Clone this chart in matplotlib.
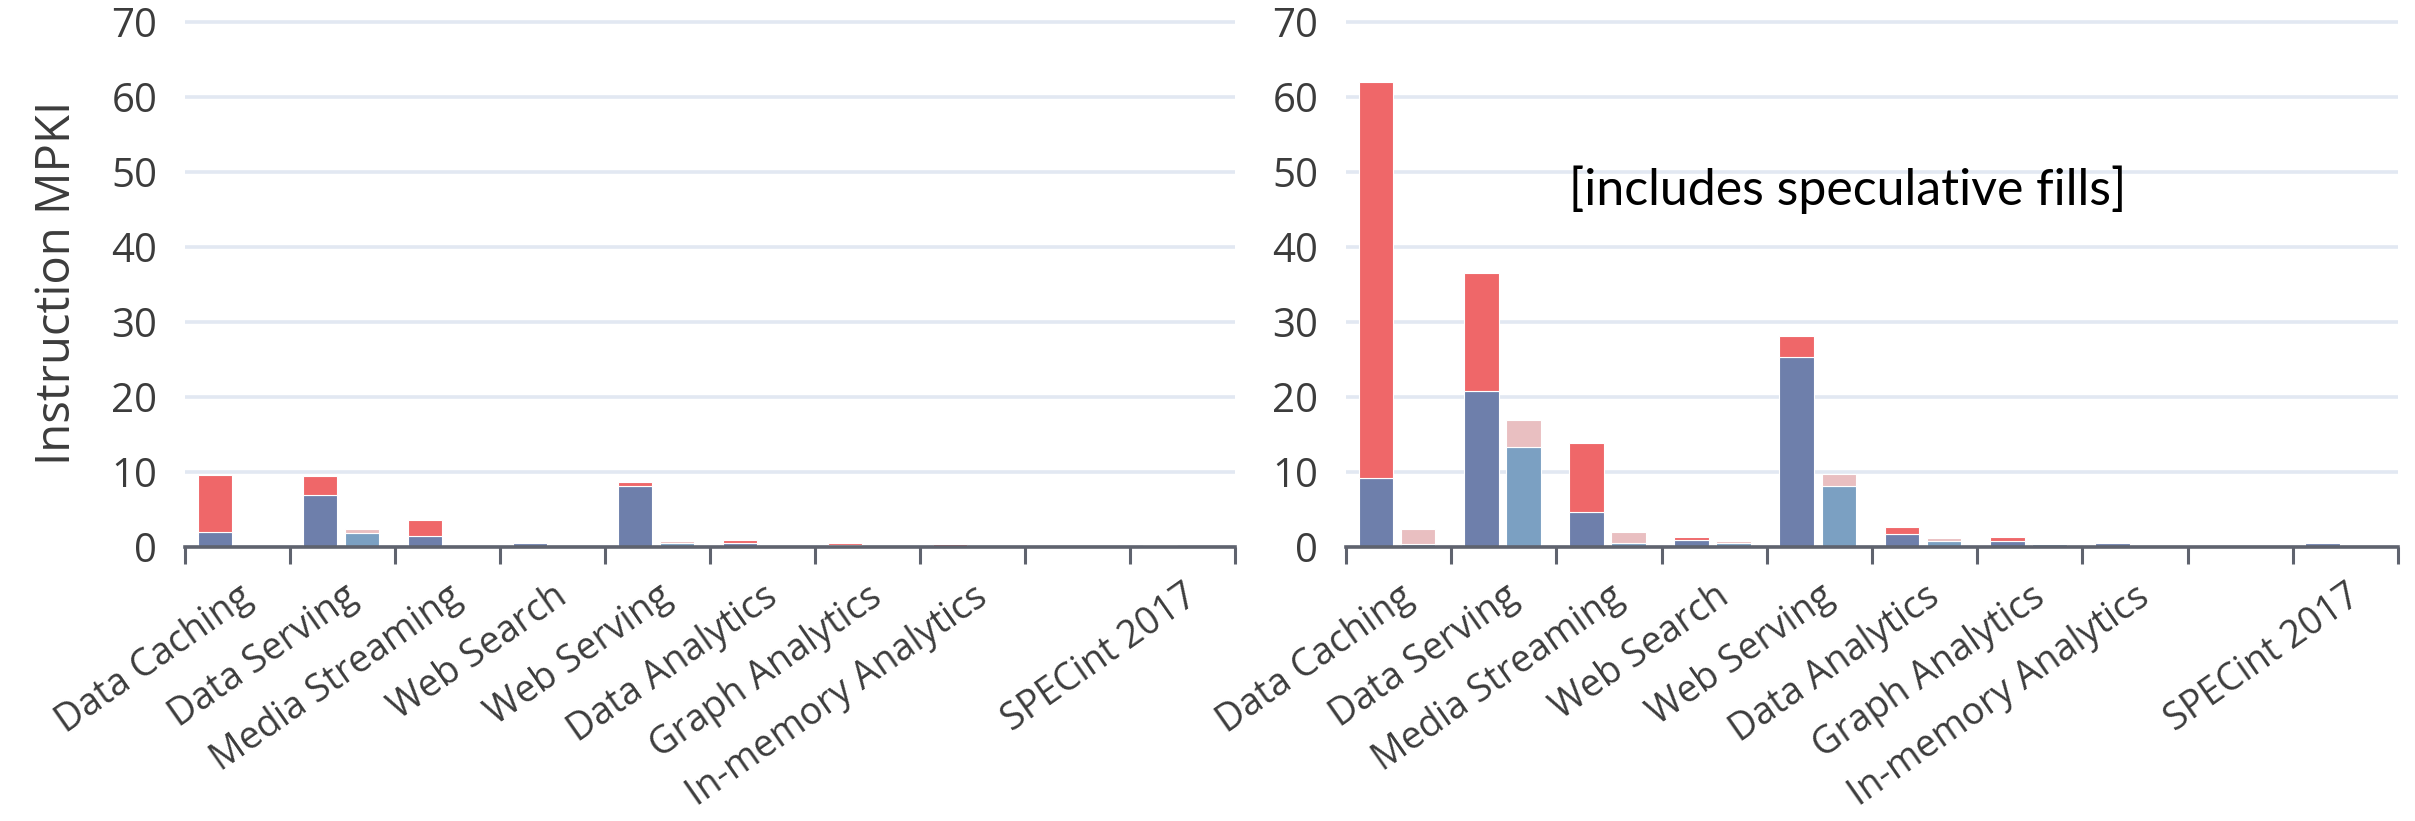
import matplotlib
matplotlib.use("Agg")
import matplotlib.pyplot as plt
import numpy as np

# ── Data ──────────────────────────────────────────────────────────────────────
categorias = ["Data Caching", "Data Serving", "Media Streaming", "Web Search",
              "Web Serving", "Data Analytics", "Graph Analytics",
              "In-memory Analytics", "", "SPECint 2017"]

# left panel: stacked segments (bar 1 = blue + red, bar 2 = light blue + pink)
esq_azul   = [2.0, 7.0, 1.5, 0.5, 8.2, 0.55, 0.25, 0.2, 0, 0.25]
esq_verm   = [7.6, 2.5, 2.05, 0.2, 0.5, 0.4, 0.25, 0.15, 0, 0.03]
esq_azulcl = [0.05, 1.9, 0.05, 0.05, 0.55, 0.08, 0.04, 0.02, 0, 0.05]
esq_rosa   = [0.05, 0.55, 0.1, 0.05, 0.2, 0.07, 0.04, 0.02, 0, 0.02]

# right panel (includes speculative fills)
dir_azul   = [9.2, 20.8, 4.7, 0.95, 25.4, 1.75, 0.8, 0.5, 0, 0.5]
dir_verm   = [52.8, 15.8, 9.15, 0.4, 2.7, 0.95, 0.5, 0.15, 0, 0.02]
dir_azulcl = [0.45, 13.4, 0.55, 0.6, 8.1, 0.8, 0.45, 0.05, 0, 0.05]
dir_rosa   = [2.0, 3.6, 1.45, 0.25, 1.6, 0.35, 0.15, 0.05, 0, 0.02]

y_ticks = [0, 10, 20, 30, 40, 50, 60, 70]

# ── Style ─────────────────────────────────────────────────────────────────────
AZUL   = "#6E7FAB"
VERM   = "#EF6769"
AZULCL = "#7BA0C2"
ROSA   = "#E9BFC1"
CINZA  = "#5F636E"
GRADE  = "#E2E8F2"
TEXTO  = "#3C3C3C"

FONTE = ["Open Sans", "DejaVu Sans"]

W, H = 2415, 821
fig = plt.figure(figsize=(W / 100, H / 100), dpi=100)

Y_TOP = 70.4
def eixo(x0, x1):
    # pixel box -> figure fractions (0 line at y=547, 70 line at y=22)
    y0 = 547
    px_por_unid = (547 - 22) / 70.0
    y1 = y0 - Y_TOP * px_por_unid
    return fig.add_axes([x0 / W, 1 - y0 / H, (x1 - x0) / W, (y0 - y1) / H])


def desenhar(ax, azul, verm, azulcl, rosa):
    x = np.arange(len(categorias))
    larg = 0.33
    x1 = x - 0.215
    x2 = x + 0.185
    kw = dict(width=larg, edgecolor="white", linewidth=0.8, zorder=3)
    ax.bar(x1, azul, color=AZUL, **kw)
    ax.bar(x1, verm, bottom=azul, color=VERM, **kw)
    ax.bar(x2, azulcl, color=AZULCL, **kw)
    ax.bar(x2, rosa, bottom=azulcl, color=ROSA, **kw)

    ax.set_xlim(-0.5, len(categorias) - 0.5)
    ax.set_ylim(0, Y_TOP)

    # labels at category centres, tick marks at the boundaries
    ax.set_xticks(x)
    ax.set_xticklabels(categorias, fontsize=27, color=TEXTO, family=FONTE)
    ax.tick_params(axis="x", which="major", length=0, pad=22)
    plt.setp(ax.get_xticklabels(), rotation=35, ha="right", va="top",
             rotation_mode="anchor")
    ax.set_xticks(np.arange(len(categorias) + 1) - 0.5, minor=True)
    ax.tick_params(axis="x", which="minor", length=12, width=2.2,
                   color=CINZA, direction="out")

    ax.set_yticks(y_ticks)
    ax.set_yticklabels([str(v) for v in y_ticks], fontsize=29, color=TEXTO,
                       family=FONTE)
    ax.tick_params(axis="y", length=0, pad=20)

    ax.grid(axis="y", color=GRADE, linewidth=2.6, zorder=0)
    ax.set_axisbelow(True)
    for lado in ["top", "right", "left"]:
        ax.spines[lado].set_visible(False)
    ax.spines["bottom"].set_color(CINZA)
    ax.spines["bottom"].set_linewidth(2.6)
    ax.spines["bottom"].set_zorder(4)


ax1 = eixo(185, 1235)
desenhar(ax1, esq_azul, esq_verm, esq_azulcl, esq_rosa)
ax1.set_ylabel("Instruction MPKI", fontsize=34, color=TEXTO, family=FONTE,
               labelpad=22)

ax2 = eixo(1346, 2398)
desenhar(ax2, dir_azul, dir_verm, dir_azulcl, dir_rosa)
ax2.text(1.62, 45.6, "[includes speculative fills]", fontsize=36,
         family=["Lato", "DejaVu Sans"], color="black", ha="left",
         va="baseline", zorder=5)

fig.savefig("out.png", dpi=100, facecolor="white")
plt.close(fig)
